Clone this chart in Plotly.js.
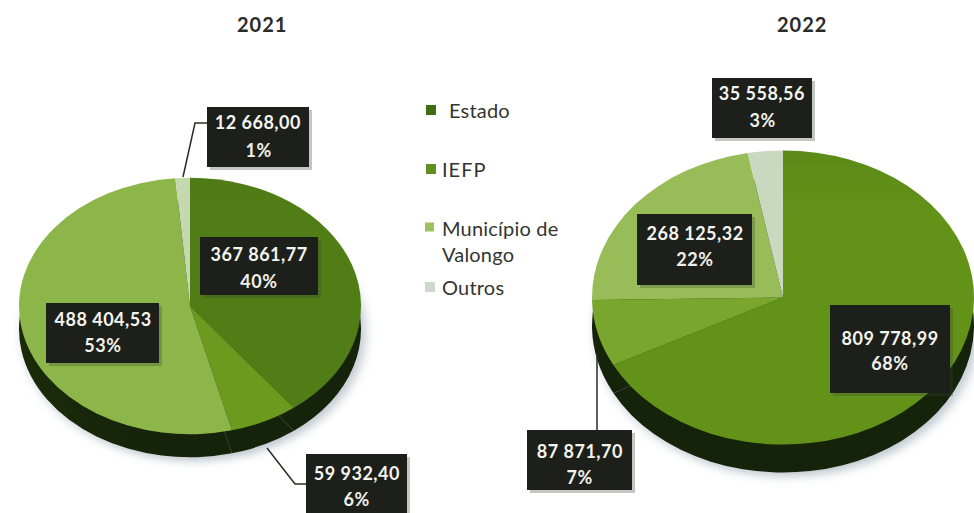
<!DOCTYPE html>
<html>
<head>
<meta charset="utf-8">
<script src="https://cdn.plot.ly/plotly-3.0.1.min.js"></script>
<style>html,body{margin:0;padding:0;background:#fff}#c{width:974px;height:513px}</style>
</head>
<body>
<div id="c"></div>
<script>
var categories = ['Estado', 'IEFP', 'Município de Valongo', 'Outros'];
var years = ['2021', '2022'];
var values2021 = [367861.77, 59932.40, 488404.53, 12668.00];
var values2022 = [809778.99, 87871.70, 268125.32, 35558.56];
var percent2021 = ['40%', '6%', '53%', '1%'];
var percent2022 = ['68%', '7%', '22%', '3%'];

var colors2021 = ['#4f7d16', '#6c9a1e', '#8cb64a', '#c4d9b0'];
var colors2022 = ['#5c8c1a', '#79a62c', '#98bd58', '#c9d8be'];
var sideColor = '#22360c';
var W = 974, H = 513;
var FONT = 'Lato, "Open Sans", sans-serif';
function px(x) { return x / W; }
function py(y) { return 1 - y / H; }
function fmt(v) {
  var p = v.toFixed(2).split('.');
  return p[0].replace(/\B(?=(\d{3})+$)/g, ' ') + ',' + p[1];
}

var pies = [
  { values: values2021, colors: colors2021, cx: 190, cy: 306, r: 171, k: 0.75, depth: 23 },
  { values: values2022, colors: colors2022, cx: 783, cy: 297.5, r: 191, k: 0.77, depth: 28 }
];
var traces = [];
pies.forEach(function (p, i) {
  var dom = { x: [px(p.cx - p.r), px(p.cx + p.r)], y: [py(p.cy + p.r), py(p.cy - p.r)] };
  [[sideColor, sideColor, sideColor, sideColor], p.colors].forEach(function (cols) {
    traces.push({
      type: 'pie', name: years[i], labels: categories, values: p.values, sort: false,
      direction: 'clockwise', rotation: 0, domain: dom, textinfo: 'none',
      marker: { colors: cols, line: { width: 0 } }, showlegend: false, hoverinfo: 'label+value+percent'
    });
  });
});

// label boxes: b = [left, top, right, bottom], ty = centres of the two lines
var boxes = [
  { v: values2021[3], t: percent2021[3], b: [207, 107, 309, 167], ty: [122, 150] },
  { v: values2021[0], t: percent2021[0], b: [200, 237, 318, 295], ty: [254, 281] },
  { v: values2021[2], t: percent2021[2], b: [46, 303, 159, 363], ty: [319, 345] },
  { v: values2021[1], t: percent2021[1], b: [306, 454, 407, 514], ty: [473, 499] },
  { v: values2022[3], t: percent2022[3], b: [712, 78, 812, 138], ty: [93, 120] },
  { v: values2022[2], t: percent2022[2], b: [637, 214, 752, 285], ty: [233, 259] },
  { v: values2022[0], t: percent2022[0], b: [830, 305, 950, 393], ty: [338, 363] },
  { v: values2022[1], t: percent2022[1], b: [527, 430, 632, 490], ty: [451, 477] }
];
var leaders = [
  [[207, 123], [195, 123], [183, 177]],
  [[267, 448], [295, 484], [307, 484]],
  [[597, 353], [597, 430]]
];
var shapes = [], annotations = [];
function note(x, y, text, size, color, anchor) {
  annotations.push({ xref: 'paper', yref: 'paper', x: px(x), y: py(y), xanchor: anchor || 'center', yanchor: 'middle',
    showarrow: false, align: anchor === 'left' ? 'left' : 'center', text: text,
    font: { family: FONT, size: size, color: color } });
}
leaders.forEach(function (l) {
  shapes.push({ type: 'path', xref: 'paper', yref: 'paper', layer: 'above',
    path: l.map(function (q, i) { return (i ? 'L' : 'M') + px(q[0]) + ',' + py(q[1]); }).join(''),
    line: { color: '#2b2b26', width: 1.5 } });
});
boxes.forEach(function (o) {
  var b = o.b, mid = (b[0] + b[2]) / 2;
  shapes.push({ type: 'rect', xref: 'paper', yref: 'paper', layer: 'above',
    x0: px(b[0] + 3), x1: px(b[2] + 3), y0: py(b[1] + 3), y1: py(b[3] + 3),
    fillcolor: 'rgba(60,70,50,0.3)', line: { width: 0 } });
  shapes.push({ type: 'rect', xref: 'paper', yref: 'paper', layer: 'above',
    x0: px(b[0]), x1: px(b[2]), y0: py(b[1]), y1: py(b[3]),
    fillcolor: '#1d1f1b', line: { width: 0 } });
  note(mid, o.ty[0], '<b>' + fmt(o.v) + '</b>', 18, '#f4f4ee');
  note(mid, o.ty[1], '<b>' + o.t + '</b>', 18, '#f0f0ea');
});

// titles
note(262, 24, '<b>' + years[0] + '</b>', 20, '#2a2a2a');
note(802, 24, '<b>' + years[1] + '</b>', 20, '#2a2a2a');

// legend
var legendRows = [
  { text: categories[0], sx: 426, sy: 110, tx: 447, ty: 110, c: '#3f6d16', s: 10 },
  { text: categories[1], sx: 426, sy: 169, tx: 440, ty: 169, c: '#5f8f1c', s: 10 },
  { text: 'Município de<br>Valongo', sx: 425, sy: 227, tx: 440, ty: 240.5, c: '#9cc25c', s: 9 },
  { text: categories[3], sx: 425, sy: 287, tx: 440, ty: 287, c: '#cfd8cc', s: 10 }
];
legendRows.forEach(function (r) {
  shapes.push({ type: 'rect', xref: 'paper', yref: 'paper', layer: 'above',
    x0: px(r.sx), x1: px(r.sx + r.s), y0: py(r.sy - r.s / 2), y1: py(r.sy + r.s / 2),
    fillcolor: r.c, line: { width: 0 } });
  note(r.tx, r.ty, r.text, 20, '#33352f', 'left');
});

function addGradient(defs, id, vertical, extent, stops) {
  var NS = 'http://www.w3.org/2000/svg';
  var g = document.createElementNS(NS, 'linearGradient');
  g.setAttribute('id', id);
  g.setAttribute('gradientUnits', 'userSpaceOnUse');
  g.setAttribute('x1', vertical ? 0 : -extent); g.setAttribute('x2', vertical ? 0 : extent);
  g.setAttribute('y1', vertical ? -extent : 0); g.setAttribute('y2', vertical ? extent : 0);
  stops.forEach(function (s) {
    var e = document.createElementNS(NS, 'stop');
    e.setAttribute('offset', s[0]); e.setAttribute('stop-color', s[1]);
    g.appendChild(e);
  });
  defs.appendChild(g);
}

Plotly.newPlot('c', traces, {
  width: W, height: H, margin: { l: 0, r: 0, t: 0, b: 0 },
  paper_bgcolor: '#ffffff', plot_bgcolor: '#ffffff', showlegend: false,
  shapes: shapes, annotations: annotations
}, { displayModeBar: false, responsive: false }).then(function (gd) {
  // tilt the round pies into the perspective of the reference: flatten each, drop the side copy
  var groups = gd.querySelectorAll('.pielayer .trace');
  var svg = gd.querySelector('svg.main-svg');
  var defs = svg.querySelector('defs') || svg.appendChild(document.createElementNS('http://www.w3.org/2000/svg', 'defs'));
  pies.forEach(function (p, i) {
    var side = groups[i * 2], top = groups[i * 2 + 1];
    side.setAttribute('transform', 'translate(0,' + (p.cy + p.depth) + ') scale(1,' + p.k + ') translate(0,' + (-p.cy) + ')');
    top.setAttribute('transform', 'translate(0,' + p.cy + ') scale(1,' + p.k + ') translate(0,' + (-p.cy) + ')');
    side.style.filter = 'drop-shadow(4px 5px 6px rgba(90,110,130,0.4))';
    var gid = 'side' + i;
    addGradient(defs, gid, false, p.r, [[0, '#55781e'], [0.3, '#304a10'], [0.55, '#1b2b09'], [1, '#15230a']]);
    side.querySelectorAll('path.surface').forEach(function (s) { s.style.fill = 'url(#' + gid + ')'; });
    // Estado slice shades from dark at the back to lighter at the front
    var eid = 'estado' + i;
    addGradient(defs, eid, true, p.r, i === 0
      ? [[0, '#3f6a0e'], [1, '#507d16']]
      : [[0, '#437010'], [1, '#639219']]);
    var first = top.querySelector('path.surface');
    if (first) first.style.fill = 'url(#' + eid + ')';
  });
  gd.querySelectorAll('.annotation-text').forEach(function (t) {
    var fs = parseFloat(t.style.fontSize);
    t.style.letterSpacing = fs === 18 ? '0.5px' : (fs === 20 && t.textContent.length === 4 ? '1px' : '0.2px');
  });
});
</script>
</body>
</html>
